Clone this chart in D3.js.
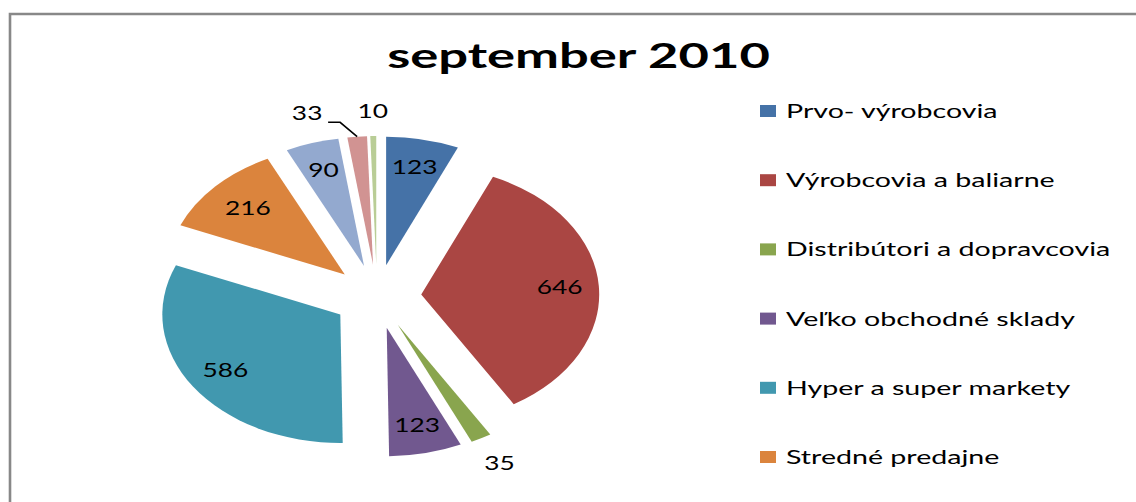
<!DOCTYPE html>
<html>
<head>
<meta charset="utf-8">
<script src="https://cdn.jsdelivr.net/npm/d3@7/dist/d3.min.js"></script>
<style>
  html, body { margin: 0; padding: 0; background: #fff; }
  svg { display: block; }
  text { font-family: Lato, "Open Sans", sans-serif; fill: #000; }
</style>
</head>
<body>
<svg id="chart" width="1136" height="502"></svg>
<script>
// ---- data ----
const title = "september 2010";
const values = [123, 646, 35, 123, 586, 216, 90, 33, 10];
const categories = [
  "Prvo- výrobcovia",
  "Výrobcovia a baliarne",
  "Distribútori a dopravcovia",
  "Veľko obchodné sklady",
  "Hyper a super markety",
  "Stredné predajne"
];
const colors = ["#4572A7", "#AA4643", "#89A54E", "#71588F", "#4198AF",
                "#DB843D", "#93A9CF", "#D19392", "#B9CD96"];

// ---- layout ----
const svg = d3.select("#chart");
const W = 1136, H = 502;
const sx = 1.385;          // horizontal stretch of the picture
const cx = 377, cy = 296.5, R = 128.5, explode = 32;

// border
svg.append("path")
  .attr("d", `M10,${H + 5} L10,14 L${W + 5},14`)
  .attr("fill", "none").attr("stroke", "#888").attr("stroke-width", 2.6);

// title
svg.append("text")
  .attr("transform", `translate(578.5,68) scale(1.5,1)`)
  .attr("text-anchor", "middle")
  .attr("font-size", 35).attr("font-weight", "bold")
  .text(title);

const pie = d3.pie().sort(null).value(d => d)(values);
const arc = d3.arc().innerRadius(0).outerRadius(R);
const mid = d => (d.startAngle + d.endAngle) / 2;
const pt = (a, dist) => [cx + sx * dist * Math.sin(a), cy - dist * Math.cos(a)];

svg.append("g").selectAll("path")
  .data(pie).join("path")
  .attr("transform", d => {
    const [x, y] = pt(mid(d), explode);
    return `translate(${x},${y}) scale(${sx},1)`;
  })
  .attr("d", arc)
  .attr("fill", (d, i) => colors[i]);

// label placement: default inside at 0.78R beyond the exploded apex
const labelOverride = {
  2: { f: 1.22 },
  5: { f: 0.75 },
  7: { angle: 344.6 * Math.PI / 180, dist: 190 },
  8: { f: 1.19 }
};
svg.append("g").selectAll("text")
  .data(pie).join("text")
  .attr("font-size", 19)
  .attr("text-anchor", "middle")
  .attr("transform", (d, i) => {
    const o = labelOverride[i] || {};
    let a = mid(d);
    if (o.angle !== undefined) a = o.angle;
    const dist = o.dist !== undefined ? o.dist : explode + (o.f !== undefined ? o.f : 0.78) * R;
    const [x, y] = pt(a, dist);
    d.lx = x; d.ly = y;
    return `translate(${x},${y + 6.5}) scale(${sx},1)`;
  })
  .text(d => d.data);

// leader line for the "33" label
{
  const d = pie[7];
  const [ax, ay] = pt(mid(d), explode);
  const ex = ax + sx * R * Math.sin(mid(d)), ey = ay - R * Math.cos(mid(d));
  const x0 = d.lx + 21, y0 = d.ly + 9;
  svg.append("path")
    .attr("d", `M${x0},${y0} L${x0 + 12},${y0} L${ex},${ey}`)
    .attr("fill", "none").attr("stroke", "#000").attr("stroke-width", 1.6);
}

// legend
const lg = svg.append("g").selectAll("g")
  .data(categories).join("g")
  .attr("transform", (d, i) => `translate(760,${111 + i * 69.2})`);
lg.append("rect").attr("x", 0).attr("y", -6).attr("width", 16).attr("height", 12)
  .attr("fill", (d, i) => colors[i]);
lg.append("text")
  .attr("transform", `translate(26,7) scale(1.43,1)`)
  .attr("font-size", 20)
  .text(d => d);
</script>
</body>
</html>
